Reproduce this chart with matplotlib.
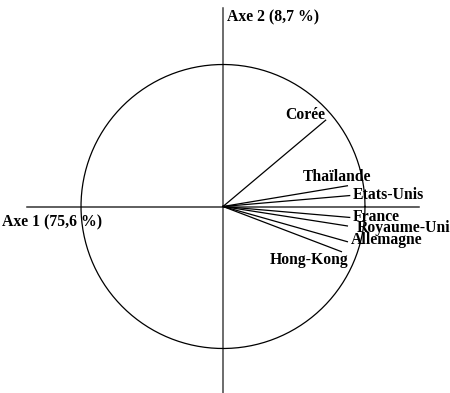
import numpy as np
import matplotlib.pyplot as plt

# Correlation circle: coordinates of each country on axes 1 and 2
countries = ["Corée", "Thaïlande", "Etats-Unis", "France", "Royaume-Uni", "Allemagne", "Hong-Kong"]
axis1 = [0.723, 0.876, 0.892, 0.892, 0.876, 0.876, 0.834]
axis2 = [0.608, 0.146, 0.077, -0.077, -0.137, -0.248, -0.318]
axis_labels = ["Axe 1 (75,6 %)", "Axe 2 (8,7 %)"]

# label placement (pixel offsets from the arrow tip, alignment)
offsets = [(0, 1, "right"), (-45, 5, "left"), (3, -3, "left"), (3, -4, "left"),
           (9, -6, "left"), (3, -2, "left"), (7, -12, "right")]

plt.rcParams["font.family"] = ["Liberation Serif", "DejaVu Serif"]
fs = 11.3

fig = plt.figure(figsize=(4.5, 3.93), dpi=100)
ax = fig.add_axes([0, 0, 1, 1])
ax.set_xlim(-223 / 142, 227 / 142)
ax.set_ylim(-186.5 / 142, 206.5 / 142)
ax.axis("off")

# axes through the origin
ax.plot([-1.38, 1.38], [0, 0], color="#333333", lw=1.1)
ax.plot([0, 0], [-1.5, 1.40], color="#444444", lw=1.1)

# unit circle
t = np.linspace(0, 2 * np.pi, 400)
ax.plot(np.cos(t), np.sin(t), color="black", lw=0.9)

for name, x, y, (dx, dy, ha) in zip(countries, axis1, axis2, offsets):
    ax.plot([0, x], [0, y], color="black", lw=0.9)
    ax.annotate(name, (x, y), xytext=(dx, dy), textcoords="offset pixels",
                ha=ha, va="baseline", fontsize=fs, fontweight="bold")

ax.text(-221 / 142, -19.5 / 142, axis_labels[0], ha="left", va="baseline",
        fontsize=fs, fontweight="bold")
ax.text(4 / 142, 185.5 / 142, axis_labels[1], ha="left", va="baseline",
        fontsize=fs, fontweight="bold")

fig.savefig("out.png", dpi=100)
